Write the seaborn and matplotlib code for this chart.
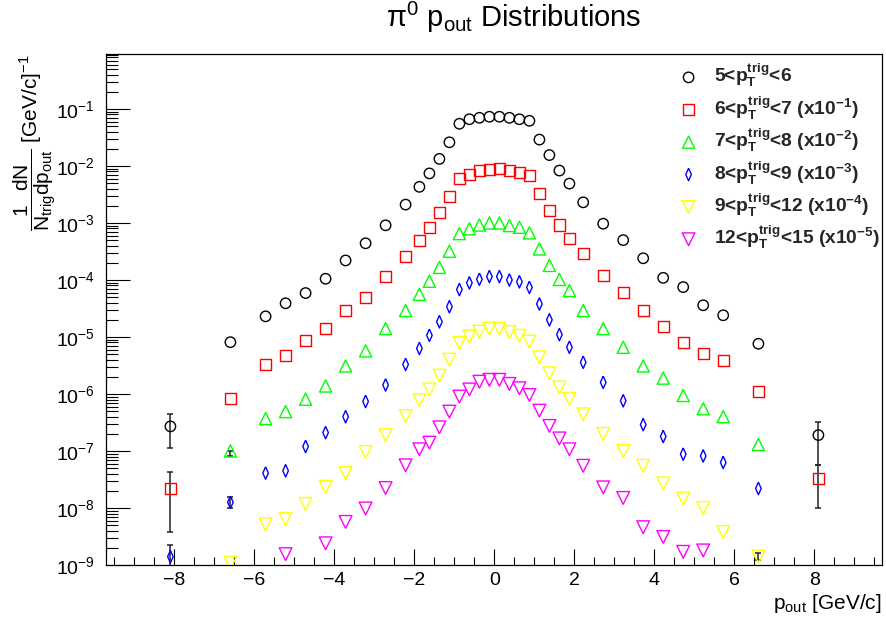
import numpy as np
import pandas as pd
import matplotlib
matplotlib.use("Agg")
import matplotlib.pyplot as plt
import seaborn as sns
from matplotlib.ticker import MultipleLocator, NullFormatter, FixedLocator, LogFormatterSciNotation

nan = np.nan

# bin centres of p_out [GeV/c]
p_out = [-8.1, -6.6, -5.72, -5.22, -4.72, -4.22, -3.72, -3.22, -2.72, -2.22,
         -1.875, -1.625, -1.375, -1.125, -0.875, -0.625, -0.375, -0.125,
         0.125, 0.375, 0.625, 0.875, 1.125, 1.375, 1.625, 1.875,
         2.22, 2.72, 3.22, 3.72, 4.22, 4.72, 5.22, 5.72, 6.6, 8.1]

y_5_6 = [2.7e-7, 8.1e-6, 2.3e-5, 3.9e-5, 5.9e-5, 1.05e-4, 2.2e-4, 4.4e-4, 9.1e-4, 2.1e-3,
         4.3e-3, 7.4e-3, 1.33e-2, 2.6e-2, 5.5e-2, 6.6e-2, 7.0e-2, 7.3e-2,
         7.3e-2, 7.0e-2, 6.6e-2, 6.2e-2, 2.9e-2, 1.55e-2, 8.3e-3, 4.9e-3,
         2.3e-3, 9.7e-4, 5.0e-4, 2.4e-4, 1.09e-4, 7.5e-5, 3.6e-5, 2.4e-5, 7.6e-6, 1.9e-7]

y_6_7 = [2.2e-8, 8.3e-7, 3.3e-6, 4.7e-6, 8.7e-6, 1.4e-5, 2.9e-5, 5.0e-5, 1.15e-4, 2.6e-4,
         4.9e-4, 8.3e-4, 1.5e-3, 2.9e-3, 6.1e-3, 7.2e-3, 8.3e-3, 8.7e-3,
         9.1e-3, 8.3e-3, 7.6e-3, 6.7e-3, 3.3e-3, 1.65e-3, 9.2e-4, 5.4e-4,
         2.9e-4, 1.2e-4, 6.0e-5, 2.9e-5, 1.5e-5, 7.9e-6, 5.2e-6, 3.8e-6, 1.09e-6, 3.3e-8]

y_7_8 = [nan, 1.0e-7, 3.7e-7, 4.9e-7, 8.1e-7, 1.38e-6, 3.1e-6, 5.7e-6, 1.4e-5, 2.9e-5,
         5.6e-5, 9.5e-5, 1.66e-4, 3.2e-4, 6.5e-4, 7.9e-4, 9.2e-4, 1.0e-3,
         1.0e-3, 9.0e-4, 8.4e-4, 6.7e-4, 3.5e-4, 1.8e-4, 1.02e-4, 6.5e-5,
         2.9e-5, 1.4e-5, 6.6e-6, 3.1e-6, 1.9e-6, 9.4e-7, 5.5e-7, 4.0e-7, 1.3e-7, nan]

y_8_9 = [1.4e-9, 1.26e-8, 4.1e-8, 4.5e-8, 1.2e-7, 2.1e-7, 4.0e-7, 7.4e-7, 1.44e-6, 3.3e-6,
         6.3e-6, 1.07e-5, 1.85e-5, 3.4e-5, 6.8e-5, 8.9e-5, 1.03e-4, 1.15e-4,
         1.15e-4, 1.0e-4, 9.3e-5, 7.4e-5, 3.8e-5, 2.0e-5, 1.1e-5, 6.6e-6,
         3.6e-6, 1.6e-6, 7.6e-7, 2.9e-7, 1.8e-7, 8.8e-8, 8.2e-8, 6.3e-8, 2.2e-8, nan]

y_9_12 = [nan, 1.1e-9, 5.2e-9, 6.4e-9, 1.18e-8, 2.36e-8, 4.1e-8, 9.6e-8, 1.9e-7, 4.1e-7,
          7.8e-7, 1.2e-6, 2.1e-6, 4.0e-6, 7.9e-6, 1.02e-5, 1.24e-5, 1.4e-5,
          1.4e-5, 1.22e-5, 1.05e-5, 8.3e-6, 4.4e-6, 2.3e-6, 1.3e-6, 8.2e-7,
          4.4e-7, 2.0e-7, 1.0e-7, 5.5e-8, 2.7e-8, 1.47e-8, 1.0e-8, 3.8e-9, 1.4e-9, nan]

y_12_15 = [nan, nan, nan, 1.55e-9, nan, 2.4e-9, 5.7e-9, 9.8e-9, 2.24e-8, 5.6e-8,
           1.07e-7, 1.4e-7, 2.6e-7, 4.9e-7, 9.0e-7, 1.2e-6, 1.64e-6, 1.77e-6,
           1.77e-6, 1.5e-6, 1.26e-6, 9.6e-7, 5.1e-7, 2.75e-7, 1.66e-7, 1.07e-7,
           5.5e-8, 2.3e-8, 1.5e-8, 4.6e-9, 3.1e-9, 1.7e-9, 1.8e-9, nan, nan, nan]

series_labels = [
    r"5<p$_{T}^{trig}$<6",
    r"6<p$_{T}^{trig}$<7 (x10$^{-1}$)",
    r"7<p$_{T}^{trig}$<8 (x10$^{-2}$)",
    r"8<p$_{T}^{trig}$<9 (x10$^{-3}$)",
    r"9<p$_{T}^{trig}$<12 (x10$^{-4}$)",
    r"12<p$_{T}^{trig}$<15 (x10$^{-5}$)",
]

# y axis decades shown
y_decades = [1e-9, 1e-8, 1e-7, 1e-6, 1e-5, 1e-4, 1e-3, 1e-2, 1e-1]

# error bars (only visible on the outer points)
err_x = [-8.1, -8.1, -8.1, -6.6, -6.6, 8.1, 8.1, 6.6]
err_y = [2.7e-7, 2.2e-8, 1.4e-9, 1.0e-7, 1.26e-8, 1.9e-7, 3.3e-8, 1.4e-9]
err_lo = [1.14e-7, 3.8e-9, 1.0e-10, 8.2e-8, 1.0e-8, 5.6e-8, 1.0e-8, 1.2e-9]
err_hi = [4.4e-7, 4.2e-8, 2.2e-9, 1.0e-7, 1.55e-8, 3.2e-7, 5.6e-8, 1.6e-9]

sns.set_theme(style="ticks")
plt.rcParams["font.family"] = ["Liberation Sans", "DejaVu Sans"]
plt.rcParams["mathtext.fontset"] = "custom"
plt.rcParams["mathtext.rm"] = "Liberation Sans"
plt.rcParams["mathtext.it"] = "Liberation Sans:italic"
plt.rcParams["mathtext.bf"] = "Liberation Sans:bold"
plt.rcParams["mathtext.default"] = "regular"

W, H = 886, 619
fig = plt.figure(figsize=(W / 100, H / 100), dpi=100)
fig.patch.set_facecolor("white")
L, R, T, B = 106, 882, 54, 565
ax = fig.add_axes([L / W, 1 - B / H, (R - L) / W, (B - T) / H])
ax.set_facecolor("white")

thin_diamond = [(0, 1), (0.45, 0), (0, -1), (-0.45, 0), (0, 1)]
colors = ["black", "#ff0000", "#00ff00", "#0000ff", "#ffff00", "#ff00ff"]
markers = ["o", "s", "^", thin_diamond, "v", "v"]
sizes = [56, 64, 76, 80, 84, 84]
series = [y_5_6, y_6_7, y_7_8, y_8_9, y_9_12, y_12_15]

ax.errorbar(err_x, err_y, yerr=[np.array(err_y) - np.array(err_lo), np.array(err_hi) - np.array(err_y)],
            fmt="none", ecolor="#222222", elinewidth=1.1, capsize=2.2, capthick=1.1, zorder=2)

handles = []
for ys, lab, c, m, s in zip(series, series_labels, colors, markers, sizes):
    df = pd.DataFrame({"pout": p_out, "y": ys}).dropna()
    sns.scatterplot(data=df, x="pout", y="y", marker=m, s=s, color=c,
                    facecolor="none", edgecolor=c, linewidth=1.0, ax=ax, zorder=3, legend=False)
    handles.append(ax.collections[-1])

ax.set_yscale("log")
ax.set_xlim(-9.71, 9.69)
ax.set_ylim(1e-9, 0.92)

ax.xaxis.set_major_locator(MultipleLocator(2))
ax.xaxis.set_minor_locator(MultipleLocator(0.5))
ax.yaxis.set_major_locator(FixedLocator(y_decades))
ax.yaxis.set_major_formatter(LogFormatterSciNotation())
minor_y = [m * d for d in y_decades for m in range(2, 10) if m * d < 0.92]
ax.yaxis.set_minor_locator(FixedLocator(minor_y))
ax.yaxis.set_minor_formatter(NullFormatter())

ax.tick_params(axis="both", which="both", direction="in", top=False, right=False,
               width=0.8, color="black", labelsize=14, labelcolor="black")
ax.tick_params(axis="x", which="major", length=11.5, pad=5)
ax.tick_params(axis="x", which="minor", length=5.8)
ax.tick_params(axis="y", which="major", length=17, pad=8)
ax.tick_params(axis="y", which="minor", length=8.6)
for sp in ax.spines.values():
    sp.set_visible(True)
    sp.set_color("black")
    sp.set_linewidth(0.9)

ax.set_xlabel(r"p$_{out}$ [GeV/c]", fontsize=15, loc="right", color="black")
ax.xaxis.set_label_coords(1.0, -0.053)
ax.set_ylabel(r"$\dfrac{1\;\;\;dN}{N_{trig}dp_{out}}$ [GeV/c]$^{-1}$", fontsize=15, loc="top", color="black")
ax.yaxis.set_label_coords(-0.06, 1.0)

fig.text(514 / W, 1 - 17 / H, r"$\pi^{0}$ p$_{out}$ Distributions", ha="center", va="center",
         fontsize=21, color="black")

leg = ax.legend(handles=handles, labels=series_labels, loc="upper left",
                bbox_to_anchor=(679 / W, 1 - 62 / H), bbox_transform=fig.transFigure,
                frameon=False, prop={"family": "Liberation Sans", "weight": "bold", "size": 13.8},
                handlelength=1.0, handletextpad=0.85, labelspacing=0.26, borderpad=0,
                borderaxespad=0, scatterpoints=1)

fig.savefig("out.png", dpi=100, facecolor="white")
